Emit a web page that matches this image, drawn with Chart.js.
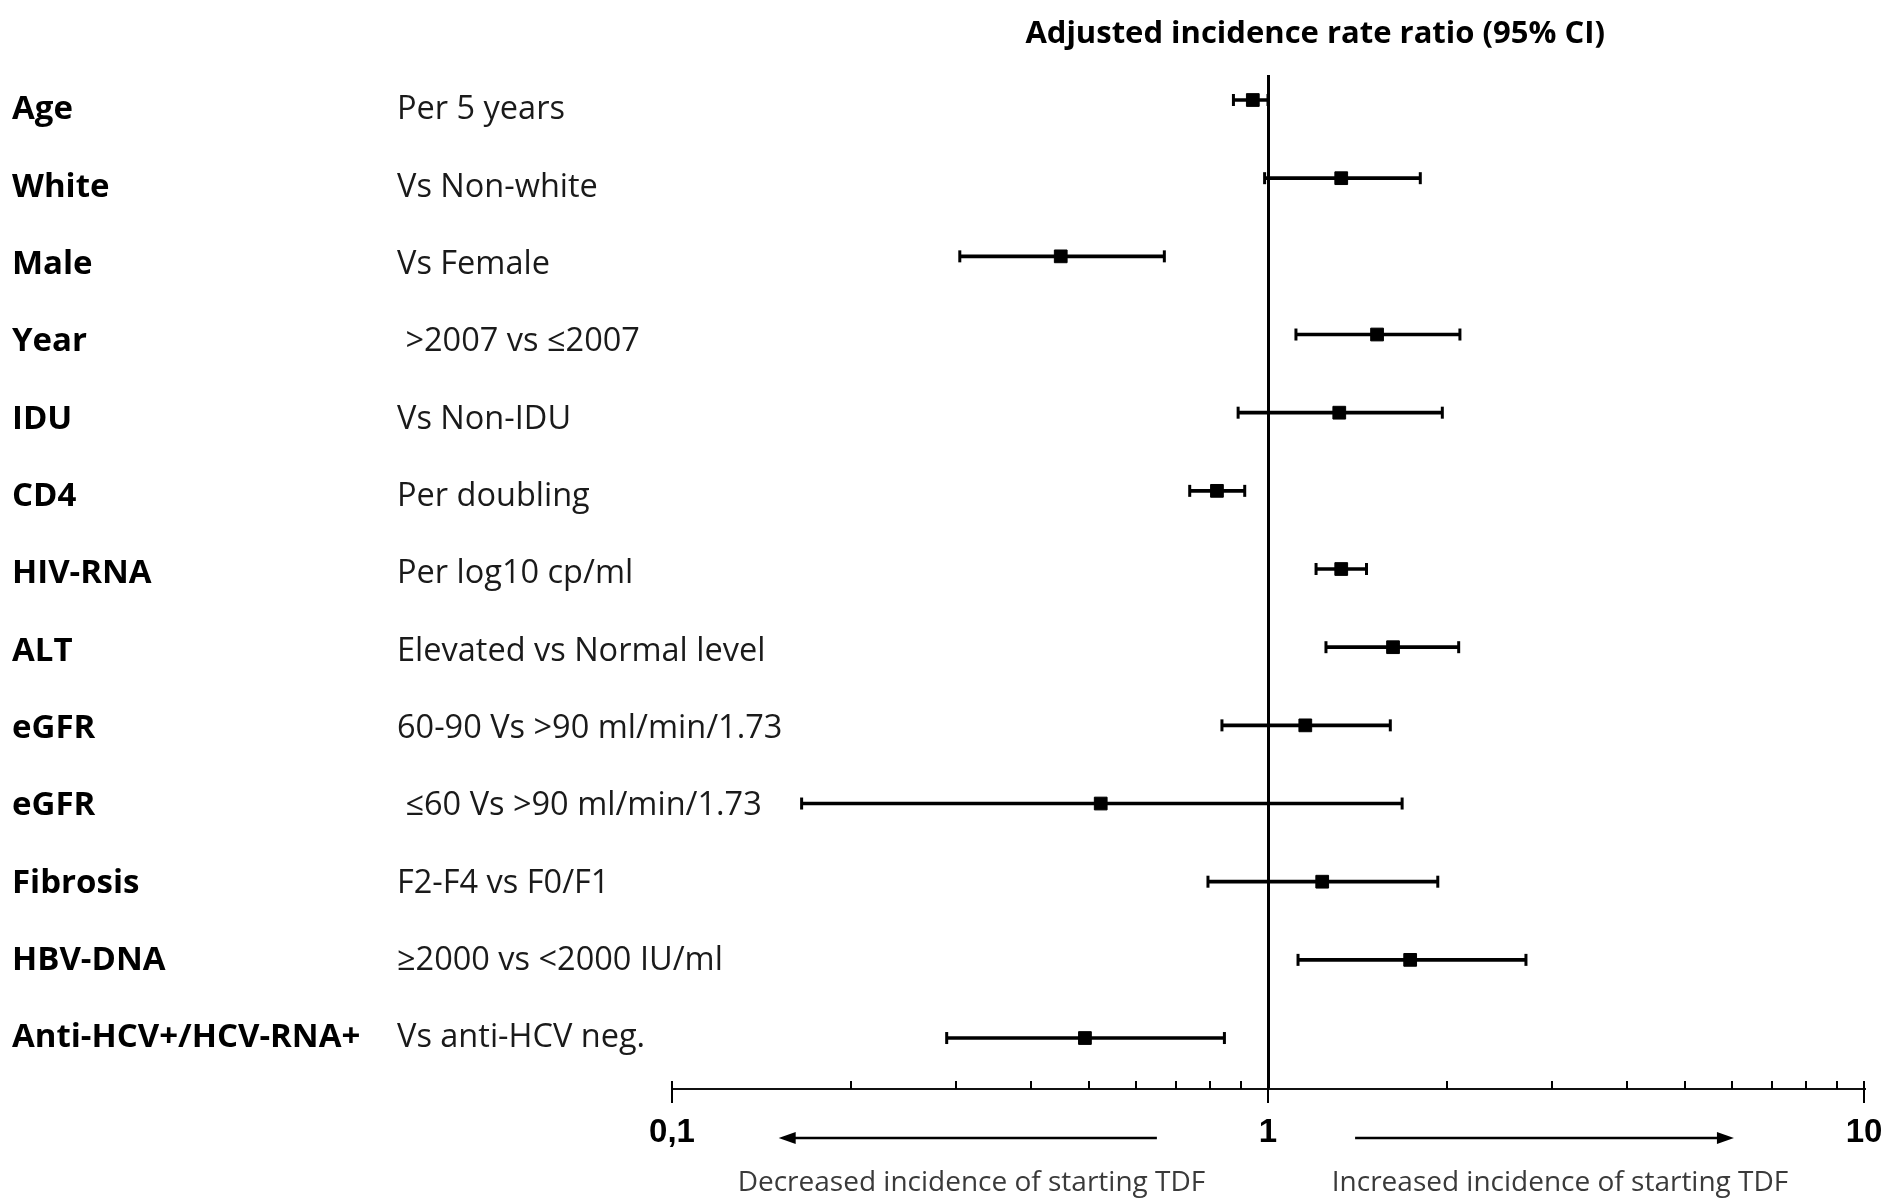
<!DOCTYPE html>
<html>
<head>
<meta charset="utf-8">
<script src="https://cdn.jsdelivr.net/npm/chart.js@4.4.1/dist/chart.umd.min.js"></script>
<style>
  html, body { margin: 0; padding: 0; background: #ffffff; }
  #wrap { width: 1892px; height: 1204px; position: relative; }
</style>
</head>
<body>
<div id="wrap"><canvas id="c" width="1892" height="1204"></canvas></div>
<script>
// ---------------- DATA ----------------
const variables = ['Age', 'White', 'Male', 'Year', 'IDU', 'CD4', 'HIV-RNA', 'ALT', 'eGFR', 'eGFR', 'Fibrosis', 'HBV-DNA', 'Anti-HCV+/HCV-RNA+'];
const comparisons = ['Per 5 years', 'Vs Non-white', 'Vs Female', ' >2007 vs \u22642007', 'Vs Non-IDU', 'Per doubling', 'Per log10 cp/ml', 'Elevated vs Normal level', '60-90 Vs >90 ml/min/1.73', ' \u226460 Vs >90 ml/min/1.73', 'F2-F4 vs F0/F1', '\u22652000 vs <2000 IU/ml', 'Vs anti-HCV neg.'];
const irr    = [0.943, 1.327, 0.449, 1.524, 1.317, 0.821, 1.327, 1.621, 1.155, 0.524, 1.233, 1.732, 0.493];
const ciLow  = [0.875, 0.987, 0.304, 1.114, 0.891, 0.739, 1.204, 1.251, 0.837, 0.165, 0.793, 1.123, 0.289];
const ciHigh = [1.0, 1.801, 0.670, 2.099, 1.961, 0.914, 1.463, 2.089, 1.604, 1.679, 1.927, 2.709, 0.845];
const xMajorTicks = [0.1, 1, 10];
const xMajorTickLabels = ['0,1', '1', '10'];
const xMinorTicks = [0.2, 0.3, 0.4, 0.5, 0.6, 0.7, 0.8, 0.9, 2, 3, 4, 5, 6, 7, 8, 9];
const titleText = 'Adjusted incidence rate ratio (95% CI)';
const directionTexts = ['Decreased incidence of starting TDF', 'Increased incidence of starting TDF'];

// ---------------- LAYOUT / STYLE ----------------
const layoutCfg = {
  titleAtValue: 1.2, titleY: 34,
  arrowLeft: [0.651, 0.151], arrowRight: [1.40, 6.05], arrowDy: 49,
  dirAtValues: [0.318, 3.09], dirDy: 94
};

const rowIdx = variables.map((_, i) => i);

const decor = {
  id: 'forestDecor',
  afterDraw(chart) {
    const { ctx, chartArea, scales } = chart;
    const x = scales.x;
    const b = chartArea.bottom;
    ctx.save();
    ctx.strokeStyle = '#000';
    ctx.fillStyle = '#000';
    ctx.lineWidth = 2;
    const seg = (x1, y1, x2, y2) => { ctx.beginPath(); ctx.moveTo(x1, y1); ctx.lineTo(x2, y2); ctx.stroke(); };
    xMinorTicks.forEach(v => { const p = Math.round(x.getPixelForValue(v)); seg(p, b - 8, p, b); });
    xMajorTicks.forEach(v => { const p = Math.round(x.getPixelForValue(v)); seg(p, b - 8, p, b + 14); });

    // arrows
    const ay = b + layoutCfg.arrowDy;
    ctx.lineWidth = 2.5;
    const arrow = (fromV, toV) => {
      const p1 = x.getPixelForValue(fromV), p2 = x.getPixelForValue(toV);
      const dir = Math.sign(p2 - p1);
      seg(p1, ay, p2 - dir * 12, ay);
      ctx.beginPath();
      ctx.moveTo(p2, ay);
      ctx.lineTo(p2 - dir * 17, ay - 6);
      ctx.lineTo(p2 - dir * 17, ay + 6);
      ctx.closePath();
      ctx.fill();
    };
    arrow(layoutCfg.arrowLeft[0], layoutCfg.arrowLeft[1]);
    arrow(layoutCfg.arrowRight[0], layoutCfg.arrowRight[1]);

    // texts
    ctx.textAlign = 'center';
    ctx.textBaseline = 'middle';
    ctx.font = 'bold 31px "Open Sans"';
    ctx.fillStyle = '#000';
    ctx.fillText(titleText, x.getPixelForValue(layoutCfg.titleAtValue), layoutCfg.titleY);
    ctx.font = '28px "Open Sans"';
    ctx.fillStyle = '#3a3a3a';
    directionTexts.forEach((t, i) => ctx.fillText(t, x.getPixelForValue(layoutCfg.dirAtValues[i]), b + layoutCfg.dirDy));
    ctx.restore();
  }
};

const labelAxis = (labels, weight, width, font, color) => ({
  type: 'linear', position: 'left', weight: weight, reverse: true, offset: false,
  min: -0.4526, max: 12.6595,
  afterBuildTicks: s => { s.ticks = rowIdx.map(i => ({ value: i })); },
  afterFit: s => { s.width = width; },
  grid: { display: false, drawTicks: false, offset: false },
  border: { display: false },
  ticks: { mirror: true, crossAlign: 'near', autoSkip: false, padding: 0, color: color, font: font,
           callback: v => labels[v] }
});

new Chart(document.getElementById('c'), {
  type: 'bar',
  data: {
    datasets: [
      {
        type: 'bar', indexAxis: 'y', xAxisID: 'x', yAxisID: 'y',
        data: rowIdx.map(i => ({ x: [ciLow[i], ciHigh[i]], y: i })),
        backgroundColor: '#000', borderWidth: 0, barThickness: 3, order: 3
      },
      {
        type: 'scatter', xAxisID: 'x', yAxisID: 'y',
        data: rowIdx.map(i => ({ x: ciLow[i], y: i })).concat(rowIdx.map(i => ({ x: ciHigh[i], y: i }))),
        pointStyle: 'line', rotation: 90, pointRadius: 6, borderColor: '#000', borderWidth: 3, order: 2
      },
      {
        type: 'scatter', xAxisID: 'x', yAxisID: 'y',
        data: rowIdx.map(i => ({ x: irr[i], y: i })),
        pointStyle: 'rect', pointRadius: 9, backgroundColor: '#000', borderColor: '#000', borderWidth: 1, order: 1
      }
    ]
  },
  options: {
    indexAxis: 'y',
    responsive: false,
    animation: false,
    layout: { padding: { left: 0, right: 28, top: 75, bottom: 0 } },
    plugins: { legend: { display: false }, tooltip: { enabled: false }, title: { display: false } },
    scales: {
      x: {
        type: 'logarithmic', position: 'bottom', min: 0.1, max: 10, offset: false,
        afterBuildTicks: s => { s.ticks = xMajorTicks.concat(xMinorTicks).sort((a, b) => a - b).map(v => ({ value: v })); },
        afterFit: s => { s.height = 115; },
        grid: {
          color: c => (c.tick && c.tick.value === 1) ? '#000' : 'rgba(0,0,0,0)',
          lineWidth: 3, drawTicks: true, tickLength: 24, tickColor: 'rgba(0,0,0,0)', offset: false
        },
        border: { display: true, color: '#111', width: 2 },
        ticks: {
          autoSkip: false, maxRotation: 0, minRotation: 0, padding: 0, color: '#000',
          font: { family: '"Liberation Sans", Arial', weight: 'bold', size: 33 },
          callback: v => { const k = xMajorTicks.indexOf(v); return k >= 0 ? xMajorTickLabels[k] : ''; }
        }
      },
      y: {
        type: 'linear', position: 'left', weight: 1, display: true, reverse: true, offset: false,
        min: -0.32, max: 12.652,
        afterFit: s => { s.width = 275; },
        grid: { display: false, drawTicks: false, offset: false },
        border: { display: false },
        ticks: { display: false }
      },
      yCmp: labelAxis(comparisons, 2, 385, { family: '"Open Sans"', size: 32.5 }, '#1a1a1a'),
      yVar: labelAxis(variables, 3, 12, { family: '"Open Sans"', weight: 'bold', size: 33 }, '#000')
    }
  },
  plugins: [decor]
});
</script>
</body>
</html>
